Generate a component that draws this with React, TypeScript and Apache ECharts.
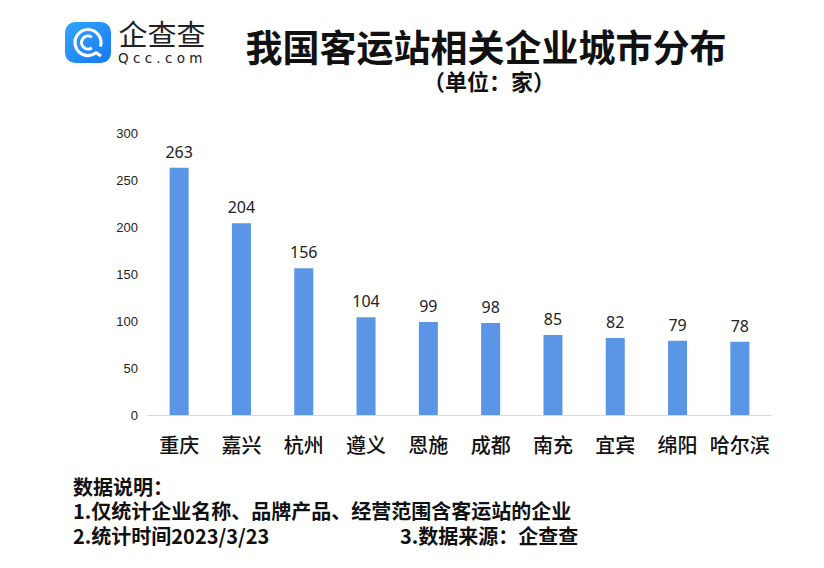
import React, { useEffect, useRef } from "react";
import * as echarts from "echarts";

const categories = ["重庆", "嘉兴", "杭州", "遵义", "恩施", "成都", "南充", "宜宾", "绵阳", "哈尔滨"];
const counts = [263, 204, 156, 104, 99, 98, 85, 82, 79, 78];
const yTicks = { min: 0, max: 300, interval: 50 };
const title = "我国客运站相关企业城市分布";
const subtitle = "（单位：家）";
const notes = [
  "数据说明：",
  "1.仅统计企业名称、品牌产品、经营范围含客运站的企业",
  "2.统计时间2023/3/23",
];
const sourceNote = "3.数据来源：企查查";
const brandName = "企查查";
const brandDomain = "Qcc.com";

const CJK = "'Noto Sans CJK SC', 'Noto Sans', sans-serif";

export default function App() {
  const ref = useRef<HTMLDivElement>(null);
  useEffect(() => {
    const chart = echarts.init(ref.current!, null, { renderer: "svg" });
    chart.setOption({
      animation: false,
      backgroundColor: "#ffffff",
      grid: { left: 148, right: 53, top: 133, bottom: 153 },
      xAxis: {
        type: "category",
        data: categories,
        axisLine: { lineStyle: { color: "#d9d9d9", width: 1 } },
        axisTick: { show: false },
        axisLabel: {
          color: "#111",
          fontSize: 20,
          fontWeight: 500,
          fontFamily: CJK,
          margin: 19,
          interval: 0,
        },
      },
      yAxis: {
        type: "value",
        min: yTicks.min,
        max: yTicks.max,
        interval: yTicks.interval,
        splitLine: { show: false },
        axisLine: { show: false },
        axisTick: { show: false },
        axisLabel: { color: "#222", fontSize: 13, fontFamily: "'Liberation Sans', Arial, sans-serif", margin: 10 },
      },
      series: [
        {
          type: "bar",
          data: counts,
          barWidth: 19,
          itemStyle: { color: "#5b95e6" },
          label: {
            show: true,
            position: "top",
            distance: 8,
            color: "#222",
            fontSize: 16,
            fontFamily: "'Noto Sans', 'Open Sans', sans-serif",
          },
        },
      ],
      graphic: [
        { type: "rect", shape: { x: 65, y: 22, width: 46, height: 41, r: 10 },
          style: { fill: new echarts.graphic.LinearGradient(0, 0, 1, 1, [
            { offset: 0, color: "#34a6ff" }, { offset: 1, color: "#1677f2" }]) } },
        { type: "arc", shape: { cx: 88, cy: 42.5, r: 13, startAngle: Math.PI * 0.3, endAngle: Math.PI * 2.1 },
          style: { stroke: "#fff", lineWidth: 3.2, fill: "none" } },
        { type: "line", shape: { x1: 95, y1: 52, x2: 101, y2: 56 }, style: { stroke: "#fff", lineWidth: 3.2 } },
        { type: "arc", shape: { cx: 88, cy: 42.5, r: 6.5, startAngle: Math.PI * 0.3, endAngle: Math.PI * 1.7 },
          style: { stroke: "#fff", lineWidth: 3, fill: "none" } },
        { type: "text", x: 162, y: 33,
          style: { text: brandName, fontSize: 29, fontFamily: CJK, fill: "#222", align: "center", verticalAlign: "middle", lineHeight: 20 } },
        { type: "text", x: 118, y: 57.5,
          style: { text: brandDomain.split("").join(" "), fontSize: 13.5, fontFamily: "'DejaVu Sans', sans-serif", fill: "#222", verticalAlign: "middle", lineHeight: 11 } },
        { type: "text", x: 486, y: 46,
          style: { text: title, fontSize: 37, fontWeight: "bold", fontFamily: CJK, fill: "#111", align: "center", verticalAlign: "middle", lineHeight: 36 } },
        { type: "text", x: 489, y: 80,
          style: { text: subtitle, fontSize: 22, fontWeight: "bold", fontFamily: CJK, fill: "#111", align: "center", verticalAlign: "middle", lineHeight: 22 } },
        { type: "text", x: 73, y: 486,
          style: { text: notes[0], fontSize: 20, fontWeight: "bold", fontFamily: CJK, fill: "#111", verticalAlign: "middle", lineHeight: 22 } },
        { type: "text", x: 73, y: 510,
          style: { text: notes[1], fontSize: 20, fontWeight: "bold", fontFamily: CJK, fill: "#111", verticalAlign: "middle", lineHeight: 22 } },
        { type: "text", x: 73, y: 535,
          style: { text: notes[2], fontSize: 20, fontWeight: "bold", fontFamily: CJK, fill: "#111", verticalAlign: "middle", lineHeight: 22 } },
        { type: "text", x: 400, y: 535,
          style: { text: sourceNote, fontSize: 20, fontWeight: "bold", fontFamily: CJK, fill: "#111", verticalAlign: "middle", lineHeight: 22 } },
      ],
    });
    return () => chart.dispose();
  }, []);
  return <div ref={ref} style={{ width: 824, height: 568, position: "absolute", left: 0, top: 0 }} />;
}
